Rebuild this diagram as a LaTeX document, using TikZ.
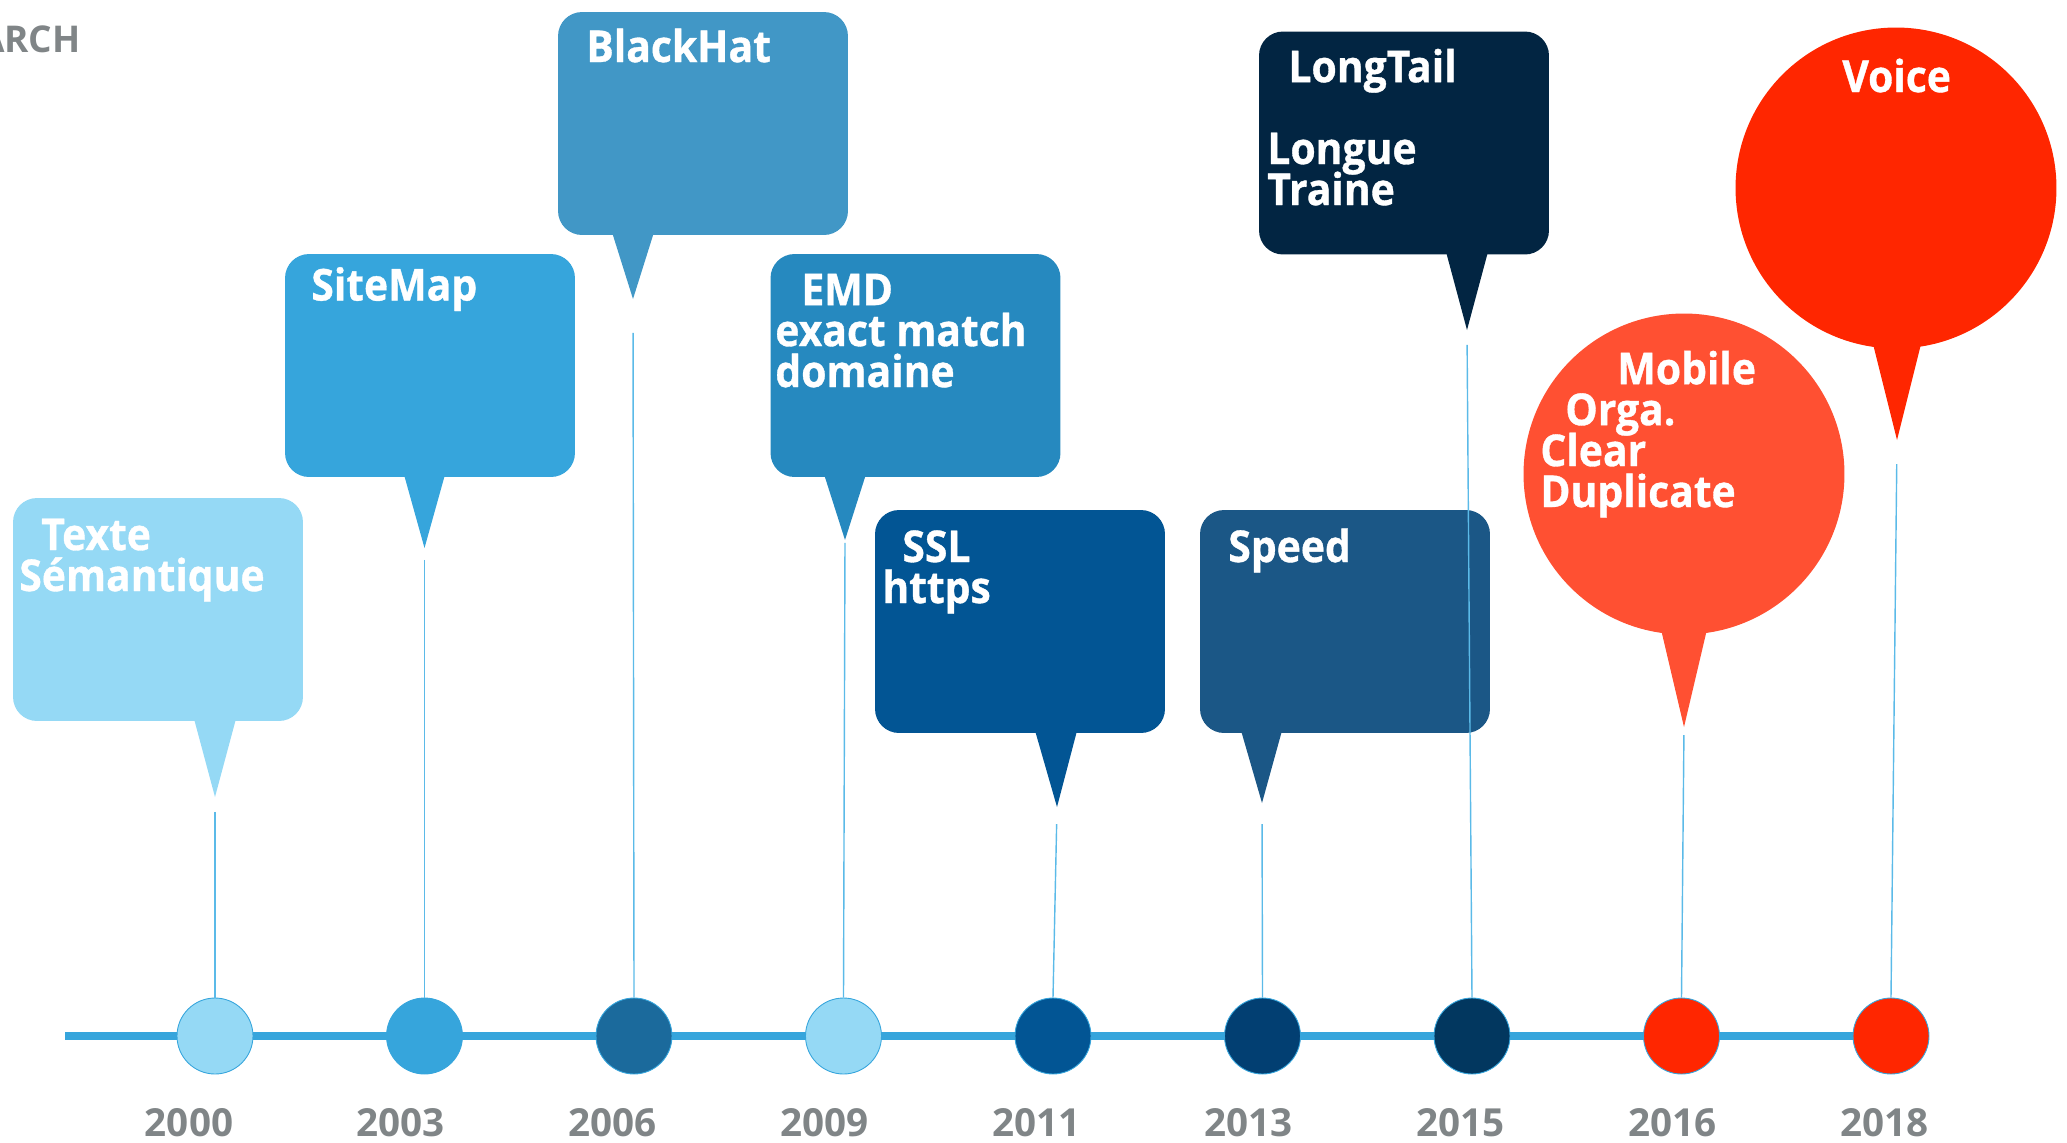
\documentclass[tikz,border=0pt]{standalone}
\usepackage{fontspec}
\setmainfont{Open Sans}
\newfontfamily\bubblefam{Open Sans}[FakeStretch=0.93,BoldFeatures={FakeBold=0.8}]
\usetikzlibrary{backgrounds}
\definecolor{cTexte}{RGB}{149,217,245}
\definecolor{cSite}{RGB}{54,165,220}
\definecolor{cBlack}{RGB}{65,151,198}
\definecolor{cEmd}{RGB}{38,137,191}
\definecolor{cSsl}{RGB}{2,85,148}
\definecolor{cSpeed}{RGB}{27,87,134}
\definecolor{cLong}{RGB}{2,37,66}
\definecolor{cMobile}{RGB}{255,80,50}
\definecolor{cVoice}{RGB}{255,38,0}
\definecolor{cDot}{RGB}{27,106,156}
\definecolor{cDotb}{RGB}{2,63,114}
\definecolor{cDotc}{RGB}{2,55,95}
\definecolor{cStem}{RGB}{91,186,232}
\definecolor{cGray}{RGB}{128,133,135}
\newcommand{\bubblefont}{\bubblefam\fontsize{25}{23.3}\selectfont\bfseries\setlength{\lineskiplimit}{-30pt}}

\begin{document}
\begin{tikzpicture}[x=0.02cm,y=-0.02cm,
  box/.style={rectangle,rounded corners=0.48cm,minimum width=5.8cm,minimum height=4.46cm,inner sep=0pt},
  ball/.style={circle,minimum size=6.42cm,inner sep=0pt},
  dot/.style={circle,minimum size=1.52cm,inner sep=0pt,draw=cSite,line width=0.5pt},
  stem/.style={draw=cStem,line width=0.8pt},
  txt/.style={text=white,anchor=base west,align=left,inner sep=0pt,font=\bubblefont},
  year/.style={text=cGray,anchor=base,inner sep=0pt,font={\fontsize{22}{22}\selectfont\bfseries}}]

\useasboundingbox (0,0) rectangle (2067,1143);
\node[year,anchor=base east,font={\fontsize{21}{21}\selectfont\bfseries}] (search) at (81,52) {ARCH};

\node[box,fill=cTexte] (bTexte) at (158,609.5) {};
\coordinate (t2000) at (215,797);
\fill[cTexte] (193,715) -- (t2000) -- (237,715) -- cycle;

\node[box,fill=cSite] (bSite) at (430,365.5) {};
\coordinate (t2003) at (424.5,548);
\fill[cSite] (403,471) -- (t2003) -- (446,471) -- cycle;

\node[box,fill=cBlack] (bBlack) at (703,123.5) {};
\coordinate (t2006) at (633,299);
\fill[cBlack] (611,229) -- (t2006) -- (655,229) -- cycle;

\node[box,fill=cEmd] (bEmd) at (915.5,365.5) {};
\coordinate (t2009) at (845,540);
\fill[cEmd] (823,471) -- (t2009) -- (867,471) -- cycle;

\node[box,fill=cSsl] (bSsl) at (1020,621.5) {};
\coordinate (t2011) at (1057,807);
\fill[cSsl] (1034,727) -- (t2011) -- (1078,727) -- cycle;

\node[box,fill=cSpeed] (bSpeed) at (1345,621.5) {};
\coordinate (t2013) at (1262,803);
\fill[cSpeed] (1240,727) -- (t2013) -- (1283,727) -- cycle;

\node[box,fill=cLong] (bLong) at (1404,143) {};
\coordinate (t2015) at (1467,330);
\fill[cLong] (1445,248) -- (t2015) -- (1489,248) -- cycle;

\node[ball,fill=cMobile] (bMobile) at (1684,474) {};
\coordinate (t2016) at (1684,727);
\fill[cMobile] (1660,625) -- (t2016) -- (1708,625) -- cycle;

\node[ball,fill=cVoice] (bVoice) at (1896,188) {};
\coordinate (t2018) at (1897,440);
\fill[cVoice] (1872,340) -- (t2018) -- (1922,340) -- cycle;

\foreach \yr/\col [count=\i from 0] in {2000/cTexte,2003/cSite,2006/cDot,2009/cTexte,
    2011/cSsl,2013/cDotb,2015/cDotc,2016/cVoice,2018/cVoice}{
  \node[dot,fill=\col] (c\yr) at ({215+209.5*\i},1036) {};
  \node[year] (l\yr) at ({189+211.9*\i},1136) {\yr};
}
\foreach \yr/\gap in {2000/8.5,2003/6.8,2006/19.3,2009/1.7,2011/9.7,2013/12,2015/8.5,2016/4.6,2018/13.7}
  \draw[stem,shorten <=\gap pt] (t\yr) -- (c\yr.north);

\begin{scope}[on background layer]
\coordinate (start) at (65,1036);
\draw[cSite,line width=5.1pt] (start) -- (c2018);
\end{scope}

\node[txt] (xTexte) at (19,591) {\hspace*{12.5pt}Texte\\Sémantique};
\node[txt] (xSite) at (311,300.5) {SiteMap};
\node[txt] (xBlack) at (586,62) {BlackHat};
\node[txt] (xEmd) at (775,387) {\hspace*{14.8pt}EMD\\exact match\\domaine};
\node[txt] (xSsl) at (882,603) {\hspace*{11.4pt}SSL\\https};
\node[txt] (xSpeed) at (1228,562) {Speed};
\node[txt] (xLong) at (1267,205) {\hspace*{12pt}LongTail\\[23.3pt]Longue\\Traine};
\node[txt] (xMobile) at (1540,507) {\hspace*{43.8pt}Mobile\\\hspace*{14.2pt}Orga.\\Clear\\Duplicate};
\node[txt] (xVoice) at (1842,92) {Voice};
\end{tikzpicture}
\end{document}
